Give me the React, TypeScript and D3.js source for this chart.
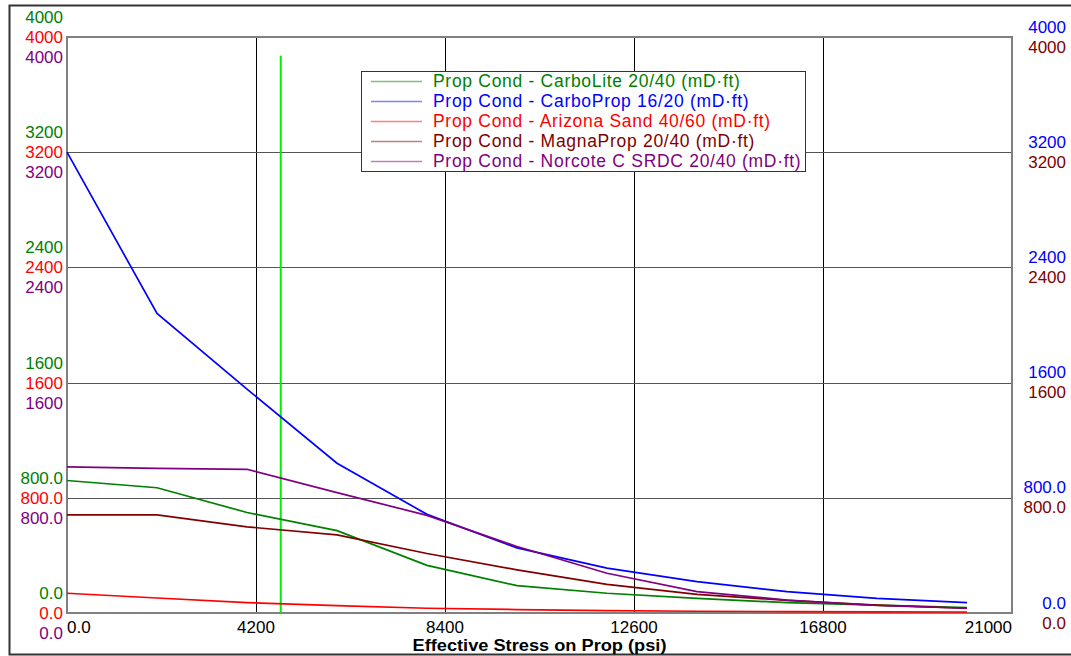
import { useEffect, useRef } from "react";
import * as d3 from "d3";

// stress points (psi)
const stress = [0, 2000, 4000, 6000, 8000, 10000, 12000, 14000, 16000, 18000, 20000];

// conductivity values (mD·ft)
const carboLite = [920, 870, 698, 572, 331, 190, 137, 102, 72, 55, 38];
const carboProp = [3200, 2080, 1555, 1040, 685, 452, 312, 218, 148, 102, 72];
const arizonaSand = [137, 104, 72, 51, 33, 24, 17, 12, 10, 8, 7];
const magnaProp = [681, 681, 598, 542, 413, 300, 199, 130, 88, 55, 33];
const norcote = [1015, 1005, 998, 836, 678, 462, 276, 148, 90, 52, 33];

const seriesNames = [
  "Prop Cond - CarboLite 20/40 (mD·ft)",
  "Prop Cond - CarboProp 16/20 (mD·ft)",
  "Prop Cond - Arizona Sand 40/60 (mD·ft)",
  "Prop Cond - MagnaProp 20/40 (mD·ft)",
  "Prop Cond - Norcote C SRDC 20/40 (mD·ft)",
];
const seriesValues = [carboLite, carboProp, arizonaSand, magnaProp, norcote];
const seriesColors = ["#008000", "#0000ff", "#ff0000", "#800000", "#800080"];

const xTicks = [0, 4200, 8400, 12600, 16800, 21000];
const xTickLabels = ["0.0", "4200", "8400", "12600", "16800", "21000"];
const yTicks = [0, 800, 1600, 2400, 3200, 4000];
const yTickLabels = ["0.0", "800.0", "1600", "2400", "3200", "4000"];

// current stress marker
const markerStress = 4750;
const markerTop = 3870;

const width = 1071;
const height = 656;
const margin = { top: 37, right: 59, bottom: 43, left: 67 };
const font = "'Liberation Sans', Arial, sans-serif";

export default function App() {
  const svgRef = useRef<SVGSVGElement>(null);

  useEffect(() => {
    const svg = d3.select(svgRef.current);
    svg.selectAll("*").remove();

    const boundsWidth = width - margin.left - margin.right;
    const boundsHeight = height - margin.top - margin.bottom;

    const x = d3.scaleLinear().domain([0, 21000]).range([margin.left, margin.left + boundsWidth]);
    const y = d3.scaleLinear().domain([0, 4000]).range([margin.top + boundsHeight, margin.top]);

    // outer frame
    svg
      .append("rect")
      .attr("x", 9.5)
      .attr("y", 5.5)
      .attr("width", 1080)
      .attr("height", 649)
      .attr("fill", "white")
      .attr("stroke", "#333")
      .attr("stroke-width", 2);

    // vertical grid
    svg
      .selectAll("line.vgrid")
      .data(xTicks.slice(1, -1))
      .join("line")
      .attr("class", "vgrid")
      .attr("x1", (d) => Math.round(x(d)) + 0.5)
      .attr("x2", (d) => Math.round(x(d)) + 0.5)
      .attr("y1", y(4000))
      .attr("y2", y(0))
      .attr("stroke", "#000")
      .attr("stroke-width", 1);

    // horizontal grid
    svg
      .selectAll("line.hgrid")
      .data(yTicks.slice(1, -1))
      .join("line")
      .attr("class", "hgrid")
      .attr("x1", x(0))
      .attr("x2", x(21000))
      .attr("y1", (d) => Math.round(y(d)) + 0.5)
      .attr("y2", (d) => Math.round(y(d)) + 0.5)
      .attr("stroke", "#555")
      .attr("stroke-width", 1.2);

    // plot border
    svg
      .append("rect")
      .attr("x", x(0))
      .attr("y", y(4000))
      .attr("width", boundsWidth)
      .attr("height", boundsHeight)
      .attr("fill", "none")
      .attr("stroke", "#808080")
      .attr("stroke-width", 2);

    // marker line
    svg
      .append("line")
      .attr("x1", x(markerStress))
      .attr("x2", x(markerStress))
      .attr("y1", y(markerTop))
      .attr("y2", y(0))
      .attr("stroke", "#00ee00")
      .attr("stroke-width", 2);

    // series lines
    const line = d3
      .line<number>()
      .x((_, i) => x(stress[i]))
      .y((d) => y(d));

    seriesValues.forEach((vals, i) => {
      svg
        .append("path")
        .datum(vals)
        .attr("d", line)
        .attr("fill", "none")
        .attr("stroke", seriesColors[i])
        .attr("stroke-width", 1.7);
    });

    // left axes: green, red, purple stacked around each grid line
    const leftAxes = [
      { color: seriesColors[0], dy: -14 },
      { color: seriesColors[2], dy: 6 },
      { color: seriesColors[4], dy: 26 },
    ];
    leftAxes.forEach((ax) => {
      svg
        .append("g")
        .selectAll("text")
        .data(yTicks)
        .join("text")
        .attr("x", 63)
        .attr("y", (d) => y(d) + ax.dy)
        .attr("text-anchor", "end")
        .attr("font-family", font)
        .attr("font-size", 17)
        .attr("fill", ax.color)
        .text((_, i) => yTickLabels[i]);
    });

    // right axes: blue, brown
    const rightAxes = [
      { color: seriesColors[1], dy: -4.5 },
      { color: seriesColors[3], dy: 15.5 },
    ];
    rightAxes.forEach((ax) => {
      svg
        .append("g")
        .selectAll("text")
        .data(yTicks)
        .join("text")
        .attr("x", 1066)
        .attr("y", (d) => y(d) + ax.dy)
        .attr("text-anchor", "end")
        .attr("font-family", font)
        .attr("font-size", 17)
        .attr("fill", ax.color)
        .text((_, i) => yTickLabels[i]);
    });

    // x tick labels
    svg
      .append("g")
      .selectAll("text")
      .data(xTicks)
      .join("text")
      .attr("x", (d) => x(d))
      .attr("y", 633)
      .attr("text-anchor", (_, i) => (i === 0 ? "start" : i === xTicks.length - 1 ? "end" : "middle"))
      .attr("font-family", font)
      .attr("font-size", 17)
      .attr("fill", "#000")
      .text((_, i) => xTickLabels[i]);

    // x axis title
    svg
      .append("text")
      .attr("x", (x(0) + x(21000)) / 2)
      .attr("y", 651)
      .attr("text-anchor", "middle")
      .attr("font-family", font)
      .attr("font-size", 16)
      .attr("font-weight", "bold")
      .attr("textLength", 254)
      .attr("lengthAdjust", "spacingAndGlyphs")
      .text("Effective Stress on Prop (psi)");

    // legend
    const legend = svg.append("g").attr("transform", "translate(361,71)");
    legend
      .append("rect")
      .attr("x", 0.5)
      .attr("y", 0.5)
      .attr("width", 444)
      .attr("height", 100)
      .attr("fill", "white")
      .attr("stroke", "#333")
      .attr("stroke-width", 1);

    const rows = legend
      .selectAll("g.row")
      .data(seriesNames)
      .join("g")
      .attr("class", "row")
      .attr("transform", (_, i) => `translate(0,${10 + i * 20})`);

    rows
      .append("line")
      .attr("x1", 10)
      .attr("x2", 61)
      .attr("y1", 0.5)
      .attr("y2", 0.5)
      .attr("stroke", (_, i) => seriesColors[i])
      .attr("stroke-opacity", 0.5)
      .attr("stroke-width", 1.5);

    rows
      .append("text")
      .attr("x", 72)
      .attr("y", 6)
      .attr("font-family", font)
      .attr("font-size", 17.5)
      .attr("letter-spacing", 0.7)
      .attr("fill", (_, i) => seriesColors[i])
      .text((d) => d);
  }, []);

  return (
    <svg
      ref={svgRef}
      width={width}
      height={height}
      style={{ position: "absolute", left: 0, top: 0, display: "block" }}
    ></svg>
  );
}
